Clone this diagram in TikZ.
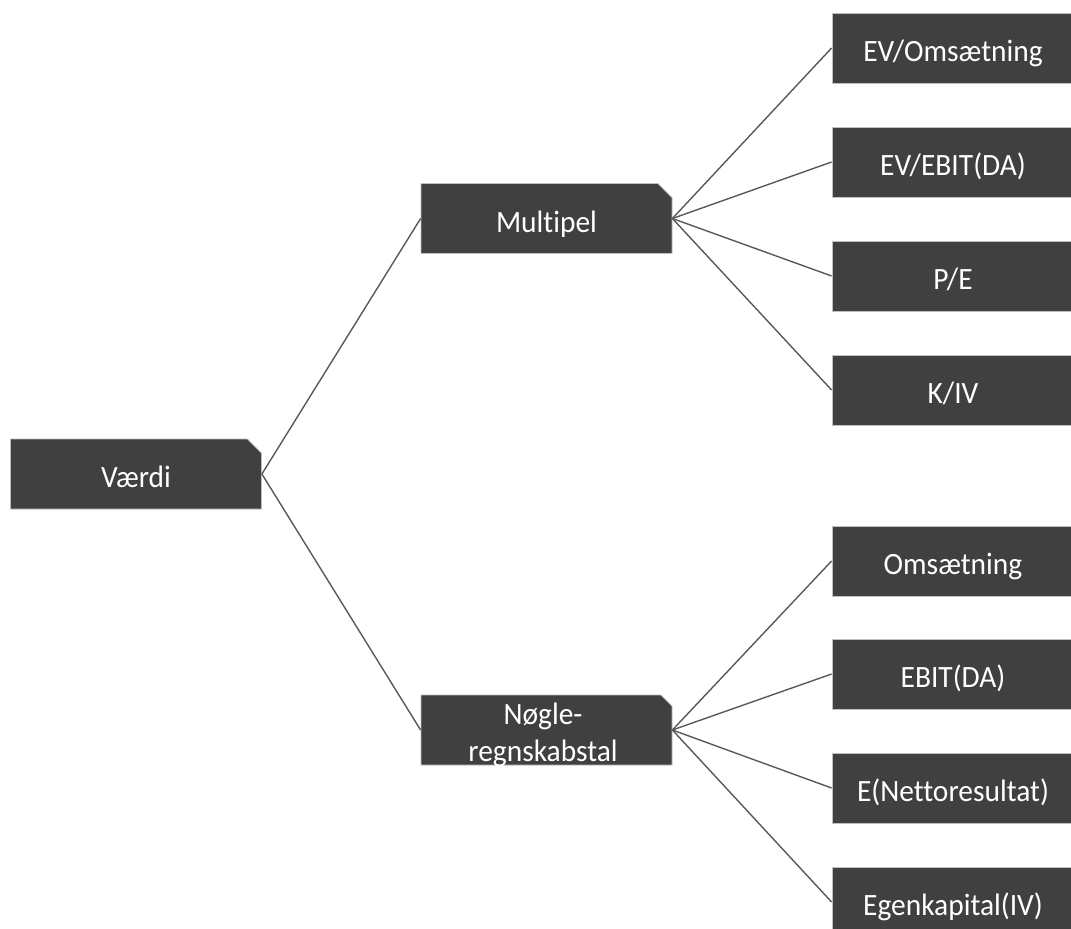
\documentclass[tikz,border=0pt]{standalone}
\usepackage{fontspec}
\setmainfont[Ligatures={NoCommon},FakeStretch=0.95]{Carlito}
\usetikzlibrary{shapes.misc}
\definecolor{boxfill}{HTML}{404040}
\definecolor{boxedge}{HTML}{BFBFBF}
\definecolor{linkcol}{HTML}{595959}
\tikzset{
  boxtext/.style={text=white, font=\fontsize{31}{37}\selectfont},
  chbox/.style={chamfered rectangle, chamfered rectangle corners=north east,
    chamfered rectangle xsep=11pt, fill=boxfill, draw=boxedge, line width=0.8pt,
    minimum width=251pt, minimum height=70pt, inner sep=0pt,
    boxtext, text height=27pt, text depth=0pt},
  leafbox/.style={rectangle, fill=boxfill, draw=boxedge, line width=0.8pt,
    minimum width=242pt, minimum height=70pt, inner sep=0pt,
    boxtext, text height=27pt, text depth=0pt},
  linetext/.style={boxtext, anchor=base, inner sep=0pt},
  link/.style={draw=linkcol, line width=1.4pt}
}
\begin{document}
\begin{tikzpicture}[x=1pt,y=-1pt]
\useasboundingbox (0,0) rectangle (1071,929);
\clip (0,0) rectangle (1071,929);
\node[chbox] (vaerdi) at (136,474) {Værdi};
\node[chbox] (multipel) at (546.5,218.5) {Multipel};
\node[chbox] (nogle) at (546.5,730) {};
\node[linetext] (nogleA) at (543,724) {Nøgle-};
\node[linetext] (nogleB) at (543,761) {regnskabstal};
\node[leafbox] (evoms) at (953,48) {EV/Omsætning};
\node[leafbox] (evebit) at (953,162) {EV/EBIT(DA)};
\node[leafbox] (pe) at (953,276) {P/E};
\node[leafbox] (kiv) at (953,390) {K/IV};
\node[leafbox] (oms) at (953,561) {Omsætning};
\node[leafbox] (ebit) at (953,674) {EBIT(DA)};
\node[leafbox] (enet) at (953,788) {E(Nettoresultat)};
\node[leafbox] (egen) at (953,902) {Egenkapital(IV)};
\draw[link] (vaerdi.east) -- (multipel.west);
\draw[link] (vaerdi.east) -- (nogle.west);
\foreach \t in {evoms,evebit,pe,kiv}{\draw[link] (multipel.east) -- (\t.west);}
\foreach \t in {oms,ebit,enet,egen}{\draw[link] (nogle.east) -- (\t.west);}
\end{tikzpicture}
\end{document}
